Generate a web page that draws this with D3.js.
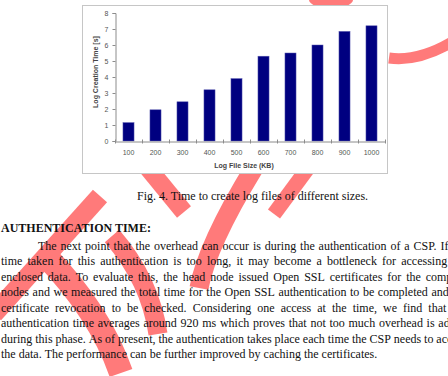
<!DOCTYPE html>
<html>
<head>
<meta charset="utf-8">
<script src="https://cdn.jsdelivr.net/npm/d3@7/dist/d3.min.js"></script>
<style>
  html, body { margin: 0; padding: 0; background: #fff; }
  svg { display: block; }
</style>
</head>
<body>
<svg id="chart" width="448" height="376"></svg>
<script>
// ---- data ----
const categories = ["100", "200", "300", "400", "500", "600", "700", "800", "900", "1000"];
const creationTimes = [1.15, 1.95, 2.45, 3.2, 3.9, 5.3, 5.5, 6.0, 6.85, 7.2];
const yTicks = [0, 1, 2, 3, 4, 5, 6, 7, 8];
const xTitle = "Log File Size (KB)";
const yTitle = "Log Creation Time [s]";
const caption = "Fig. 4. Time to create log files of different sizes.";
const heading = "AUTHENTICATION TIME:";
const paragraphLines = [
  "The next point that the overhead can occur is during the authentication of a CSP. If the",
  "time taken for this authentication is too long, it may become a bottleneck for accessing the",
  "enclosed data. To evaluate this, the head node issued Open SSL certificates for the compute",
  "nodes and we measured the total time for the Open SSL authentication to be completed and the",
  "certificate revocation to be checked. Considering one access at the time, we find that the",
  "authentication time averages around 920 ms which proves that not too much overhead is added",
  "during this phase. As of present, the authentication takes place each time the CSP needs to access",
  "the data. The performance can be further improved by caching the certificates."
];

const svg = d3.select("#chart");
svg.append("rect").attr("width", 448).attr("height", 376).attr("fill", "#fff");

// ---- watermark (background) ----
const wmColor = "#ff7a7a";
const wm = svg.append("g").attr("fill", "none").attr("stroke", wmColor).attr("stroke-linecap", "butt");
const wmPaths = [
  {d: "M100,196 L-6,314", w: 19},
  {d: "M44,254 Q100,312 121,373", w: 24},
  {d: "M112,236 Q150,280 158,334", w: 19},
  {d: "M148,168 L184,212", w: 18},
  {d: "M254,168 Q207,245 199,288", w: 19},
  {d: "M308,168 L274,214", w: 15},
  {d: "M389,58 Q418,62 452,42", w: 11}
];
wmPaths.forEach(p => wm.append("path").attr("d", p.d).attr("stroke-width", p.w));
svg.append("ellipse").attr("cx", 331).attr("cy", 0).attr("rx", 22).attr("ry", 8).attr("fill", wmColor);

// ---- chart box ----
svg.append("rect").attr("x", 82.5).attr("y", 5.5).attr("width", 305).attr("height", 168)
  .attr("fill", "#fff").attr("stroke", "#c6c6c6").attr("stroke-width", 1);

const x = d3.scaleBand().domain(categories).range([115, 385]).paddingInner(0.59).paddingOuter(0.295);
const y = d3.scaleLinear().domain([0, 8]).range([141, 13]);

const chartFont = "'Liberation Sans', Arial, sans-serif";

// bars
svg.append("g").selectAll("rect").data(categories).join("rect")
  .attr("x", d => x(d))
  .attr("y", (d, i) => y(creationTimes[i]))
  .attr("width", x.bandwidth())
  .attr("height", (d, i) => y(0) - y(creationTimes[i]))
  .attr("fill", "#000080")
  .attr("stroke", "#5a5ab0").attr("stroke-width", 0.5);

// y axis
const yAxis = svg.append("g").attr("transform", "translate(115.5,0)")
  .call(d3.axisLeft(y).tickValues(yTicks).tickSize(3).tickPadding(4).tickFormat(d3.format("d")));
yAxis.select(".domain").attr("stroke", "#8c8c8c");
yAxis.selectAll(".tick line").attr("stroke", "#8c8c8c");
yAxis.selectAll("text").attr("font-family", chartFont).attr("font-size", 7).attr("fill", "#555");

// x axis
const xAxis = svg.append("g").attr("transform", "translate(0,141.5)")
  .call(d3.axisBottom(x).tickSize(0).tickPadding(9));
xAxis.select(".domain").attr("stroke", "#8c8c8c");
xAxis.selectAll("text").attr("font-family", chartFont).attr("font-size", 7).attr("fill", "#555");
// category separator ticks
const step = x.step();
const bounds = d3.range(categories.length + 1).map(i => x.range()[0] + i * step);
xAxis.append("g").selectAll("line").data(bounds).join("line")
  .attr("x1", d => Math.round(d) + 0.5).attr("x2", d => Math.round(d) + 0.5)
  .attr("y1", -2).attr("y2", 2).attr("stroke", "#8c8c8c");

// axis titles
svg.append("text").attr("x", 244).attr("y", 167.5).attr("text-anchor", "middle")
  .attr("font-family", chartFont).attr("font-size", 7).attr("font-weight", "bold").attr("fill", "#444")
  .text(xTitle);
svg.append("text").attr("transform", "translate(97.5,72) rotate(-90)").attr("text-anchor", "middle")
  .attr("font-family", chartFont).attr("font-size", 7).attr("font-weight", "bold").attr("fill", "#444")
  .text(yTitle);

// ---- caption and body text ----
const serif = "'Liberation Serif', 'Times New Roman', serif";
svg.append("text").attr("x", 137).attr("y", 200).attr("font-family", serif).attr("font-size", 12)
  .attr("fill", "#111").text(caption);
svg.append("text").attr("x", 1).attr("y", 232).attr("font-family", serif).attr("font-size", 12)
  .attr("font-weight", "bold").attr("fill", "#111").text(heading);

const measure = svg.append("text").attr("font-family", serif).attr("font-size", 12).attr("visibility", "hidden");
function wordWidth(w) { measure.text(w); return measure.node().getComputedTextLength(); }

const rightEdge = 467;
paragraphLines.forEach((line, i) => {
  const baseY = 250 + i * 15.45;
  const startX = i === 0 ? 38 : 1;
  const words = line.split(" ");
  const widths = words.map(wordWidth);
  const last = i === paragraphLines.length - 1;
  const spaceW = wordWidth("a a") - wordWidth("aa");
  const total = d3.sum(widths);
  const gap = last ? spaceW : (rightEdge - startX - total) / (words.length - 1);
  const t = svg.append("text").attr("y", baseY).attr("font-family", serif).attr("font-size", 12).attr("fill", "#111");
  let cx = startX;
  words.forEach((w, j) => {
    t.append("tspan").attr("x", cx).text(w);
    cx += widths[j] + gap;
  });
});
measure.remove();
</script>
</body>
</html>
